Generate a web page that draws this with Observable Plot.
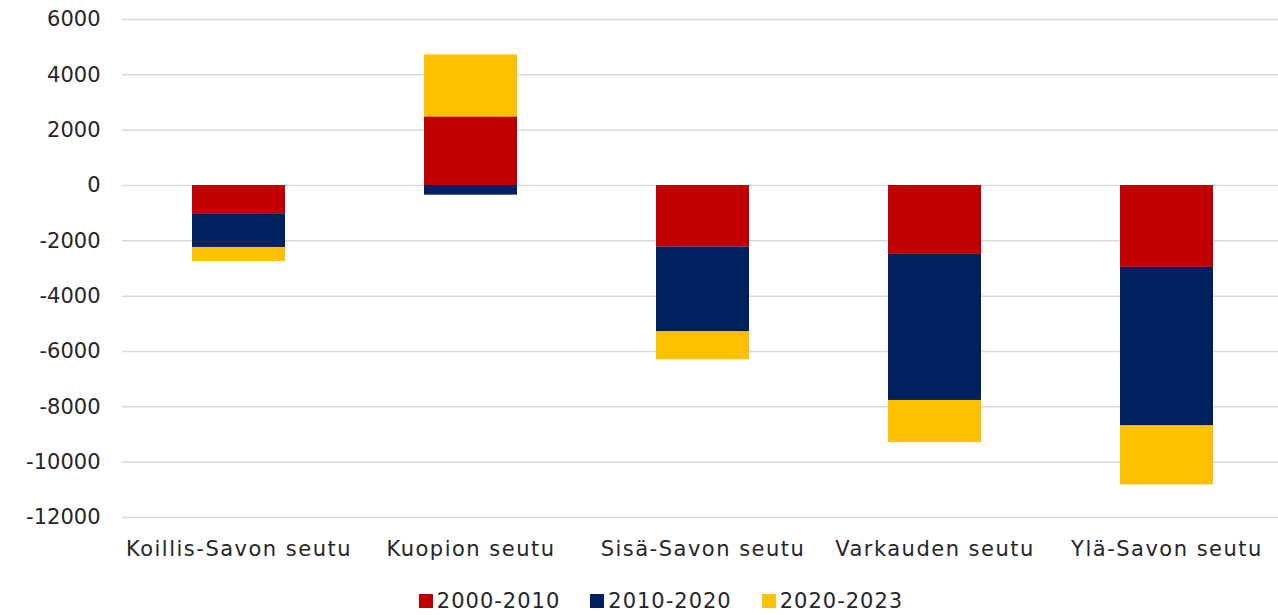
<!DOCTYPE html>
<html>
<head>
<meta charset="utf-8">
<script src="https://cdn.jsdelivr.net/npm/d3@7"></script>
<script src="https://cdn.jsdelivr.net/npm/@observablehq/plot@0.6"></script>
<style>
  html, body { margin: 0; padding: 0; background: #fff; }
  body { width: 1278px; font-family: "DejaVu Sans", sans-serif; color: #262626; }
  #legend { display: flex; justify-content: center; align-items: center; gap: 30px; font-size: 21px; letter-spacing: 1px; margin-top: 14px; padding-left: 44px; }
  .item { display: flex; align-items: center; gap: 4px; }
  .sw { width: 14px; height: 14px; display: inline-block; }
  .xax text { letter-spacing: 1.5px; }
</style>
</head>
<body>
<div id="chart"></div>
<div id="legend"></div>
<script>
const regions = ["Koillis-Savon seutu", "Kuopion seutu", "Sisä-Savon seutu", "Varkauden seutu", "Ylä-Savon seutu"];
const series = ["2000-2010", "2010-2020", "2020-2023"];
const v2000_2010 = [-1020, 2480, -2220, -2490, -2960];
const v2010_2020 = [-1220, -350, -3070, -5280, -5730];
const v2020_2023 = [-510, 2240, -1010, -1520, -2130];
const colors = ["#c00000", "#002060", "#ffc000"];
const yTicks = [6000, 4000, 2000, 0, -2000, -4000, -6000, -8000, -10000, -12000];

const vals = [v2000_2010, v2010_2020, v2020_2023];
const data = [];
series.forEach((s, si) => regions.forEach((r, ri) => data.push({region: r, series: s, value: vals[si][ri]})));

const chart = Plot.plot({
  width: 1278,
  height: 575,
  marginTop: 19,
  marginBottom: 58,
  marginLeft: 122,
  marginRight: 0,
  style: {fontFamily: "DejaVu Sans, sans-serif", fontSize: "21px", color: "#262626", background: "#fff"},
  x: {domain: regions, range: [122, 1282], paddingInner: 0.6, paddingOuter: 0.3, label: null},
  y: {domain: [-12000, 6000], label: null},
  color: {domain: series, range: colors},
  marks: [
    Plot.ruleY(yTicks, {stroke: "#d9d9d9", strokeWidth: 1.5}),
    Plot.barY(data, {x: "region", y: "value", fill: "series", order: series}),
    Plot.axisY({ticks: yTicks, tickSize: 0, tickPadding: 22, tickFormat: d => String(d).replace("−", "-"), label: null, fontSize: 21}),
    Plot.axisX({tickSize: 0, tickPadding: 24, label: null, fontSize: 21, className: "xax"})
  ]
});
document.getElementById("chart").appendChild(chart);

const legend = document.getElementById("legend");
series.forEach((s, i) => {
  const it = document.createElement("div");
  it.className = "item";
  const sw = document.createElement("span");
  sw.className = "sw";
  sw.style.background = colors[i];
  const t = document.createElement("span");
  t.textContent = s;
  it.appendChild(sw);
  it.appendChild(t);
  legend.appendChild(it);
});
</script>
</body>
</html>
